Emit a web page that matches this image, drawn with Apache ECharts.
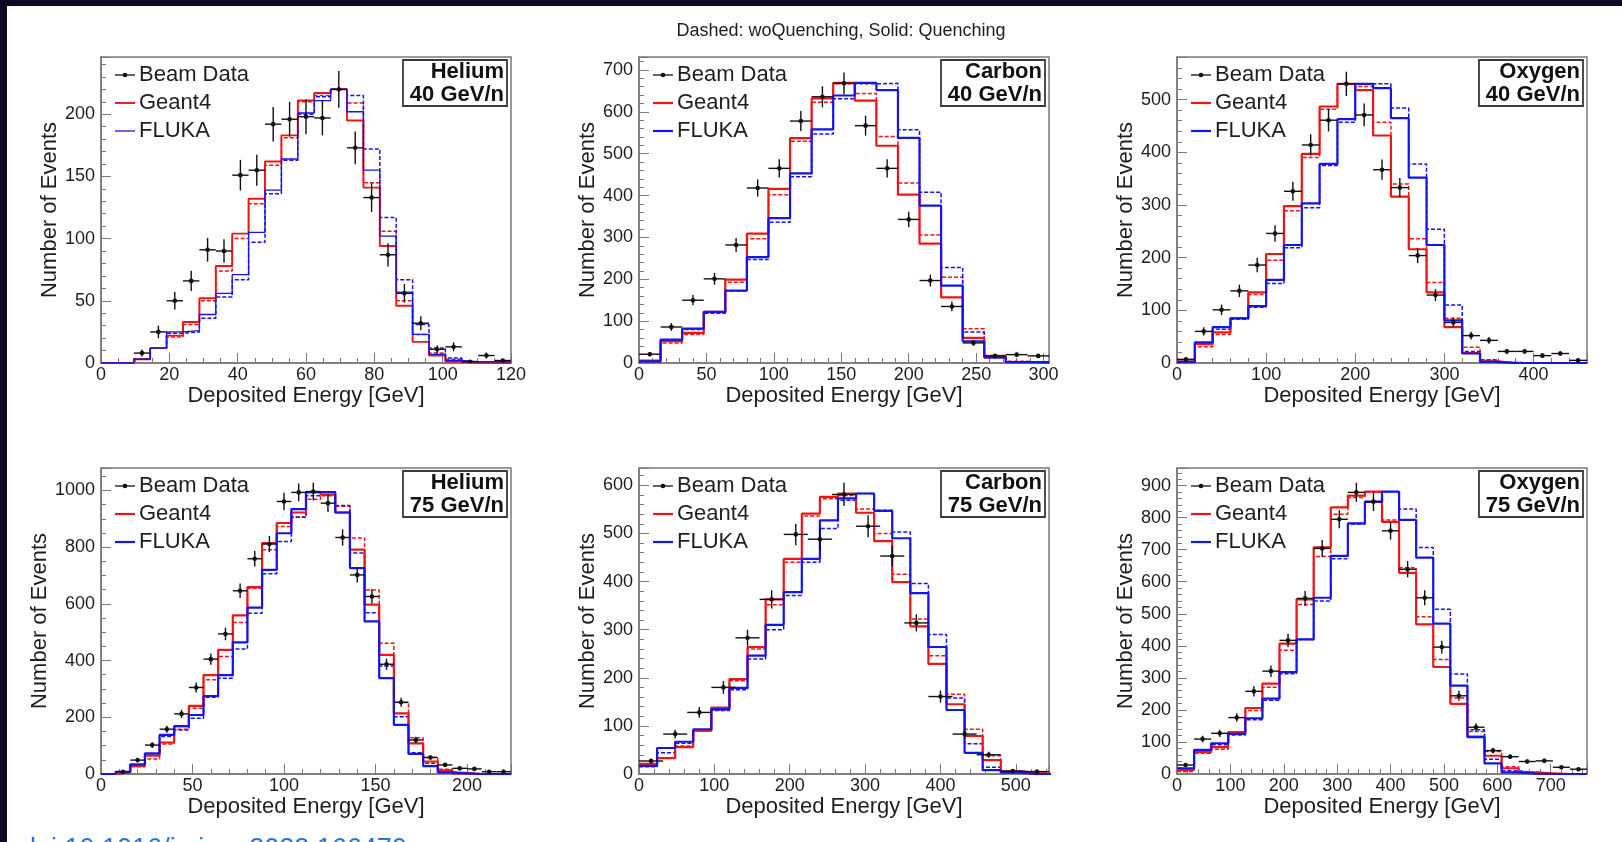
<!DOCTYPE html>
<html>
<head>
<meta charset="utf-8">
<script src="https://cdn.jsdelivr.net/npm/echarts@6/dist/echarts.min.js"></script>
<style>
  html, body { margin: 0; padding: 0; background: #0c0a22; }
  #chart { width: 1622px; height: 842px; }
</style>
</head>
<body>
<div id="chart"></div>
<script>
// ---- Energy-deposit histograms (events per bin) ----
// Helium 40 GeV/n, 4.8 GeV bins from 0
const he40Data   = [0,0,8,25,50,66,91,90,151,155,192,196,198,197,220,173,133,87,56,32,11,13,1,6,2];
const he40G4     = [0,0,3,12,22,33,52,78,104,132,162,183,211,217,220,195,141,94,46,17,6,1,0,0,0];
const he40G4woQ  = [0,0,3,12,21,31,50,74,100,128,159,181,210,215,220,209,145,106,50,23,8,3,1,0,0];
const he40Fl     = [0,0,3,12,25,26,39,56,71,105,139,164,201,211,220,202,155,102,57,23,7,2,1,1,1];
const he40FlwoQ  = [0,0,3,12,24,25,36,53,67,97,136,163,200,214,220,215,172,117,67,31,12,4,1,1,1];

// Carbon 40 GeV/n, 16 GeV bins
const c40Data    = [21,86,150,201,282,418,465,578,636,668,567,465,343,197,135,48,17,20,17];
const c40G4      = [6,52,72,122,199,309,416,537,632,669,627,519,402,285,157,60,16,2,0];
const c40G4woQ   = [4,48,68,120,193,297,402,530,623,667,644,541,430,306,205,82,18,4,0];
const c40Fl      = [4,56,82,122,173,253,346,453,558,639,669,652,538,376,185,52,13,2,2];
const c40FlwoQ   = [3,54,80,119,172,247,336,445,547,631,667,668,557,408,228,74,16,2,1];

// Oxygen 40 GeV/n, 20 GeV bins
const o40Data    = [7,60,101,137,186,246,326,414,461,530,471,367,333,204,129,77,52,43,22,22,14,18,5];
const o40G4      = [3,36,58,85,134,207,298,397,487,530,518,432,316,216,134,68,19,3,0,0,0,0,0];
const o40G4woQ   = [2,31,54,83,130,195,289,390,482,530,525,457,340,236,153,85,30,6,1,0,0,0,0];
const o40Fl      = [2,39,68,85,108,158,224,303,378,463,530,522,465,352,224,81,18,2,0,0,0,0,0];
const o40FlwoQ   = [1,37,64,83,106,151,219,295,375,457,530,530,484,378,254,110,22,5,1,0,0,0,0];

// Helium 75 GeV/n, 8 GeV bins
const he75Data   = [0,8,49,102,158,212,305,405,494,646,759,811,961,993,996,955,834,702,626,387,253,120,58,32,20,18,8,8];
const he75G4     = [0,6,29,65,111,169,240,349,438,559,659,814,885,922,994,985,922,791,597,420,214,108,44,12,2,0,0,0];
const he75G4woQ  = [0,5,26,53,106,158,232,332,414,534,655,791,873,906,969,981,944,832,649,461,252,128,59,17,5,1,0,0];
const he75Fl     = [0,8,34,73,138,169,208,275,349,464,587,720,849,934,994,994,922,726,538,338,173,71,28,6,2,0,0,0];
const he75FlwoQ  = [0,6,32,67,132,155,197,271,338,441,567,706,820,905,981,987,947,779,569,381,202,75,38,12,2,0,0,0];

// Carbon 75 GeV/n: simulation in 24 GeV bins, beam data in 32 GeV bins
const c75Data    = [27,83,128,180,283,363,498,488,581,515,453,314,161,83,40,6,5];
const c75G4      = [21,33,56,90,138,197,264,363,447,541,576,583,543,484,399,307,229,145,79,29,5,2,0];
const c75G4woQ   = [19,34,58,90,133,194,260,352,440,536,572,579,551,500,415,322,246,166,93,38,7,3,0];
const c75Fl      = [17,54,67,93,135,179,246,310,378,447,527,573,583,547,490,376,264,133,44,8,3,0,0];
const c75FlwoQ   = [15,44,64,90,132,175,239,300,371,440,510,569,583,548,503,396,290,158,63,14,4,0,0];

// Oxygen 75 GeV/n, 32 GeV bins
const o75Data    = [28,109,127,176,258,321,417,548,704,795,879,850,759,639,550,396,244,146,73,54,39,41,21,15];
const o75G4      = [13,68,84,131,206,282,407,545,707,832,869,881,787,628,467,334,219,117,57,18,4,2,0,0];
const o75G4woQ   = [8,65,77,125,198,271,386,529,679,811,863,879,793,644,491,357,237,133,70,23,7,1,0,0];
const o75Fl      = [18,75,96,125,174,235,318,420,550,681,782,850,881,793,675,469,276,115,33,5,1,0,0,0];
const o75FlwoQ   = [12,70,91,122,169,230,313,420,540,672,780,848,881,827,707,514,312,138,46,10,4,0,0,0];

// Text
const titleText = 'Dashed: woQuenching, Solid: Quenching';
const xTitle = 'Deposited Energy [GeV]';
const yTitle = 'Number of Events';
const legendNames = ['Beam Data', 'Geant4', 'FLUKA'];
const doiText = 'doi:10.1016/j.nima.2022.166470';

const panels = [
  { label: ['Helium', '40 GeV/n'], simW: 4.8, dataW: 4.8, xMax: 120, xStep: 20, xMinor: 4, yMax: 246, yStep: 50, yMinor: 5,
    data: he40Data, g4: he40G4, g4w: he40G4woQ, fl: he40Fl, flw: he40FlwoQ, thin: true },
  { label: ['Carbon', '40 GeV/n'], simW: 16, dataW: 16, xMax: 304, xStep: 50, xMinor: 5, yMax: 731, yStep: 100, yMinor: 5,
    data: c40Data, g4: c40G4, g4w: c40G4woQ, fl: c40Fl, flw: c40FlwoQ },
  { label: ['Oxygen', '40 GeV/n'], simW: 20, dataW: 20, xMax: 460, xStep: 100, xMinor: 5, yMax: 581, yStep: 100, yMinor: 5,
    data: o40Data, g4: o40G4, g4w: o40G4woQ, fl: o40Fl, flw: o40FlwoQ },
  { label: ['Helium', '75 GeV/n'], simW: 8, dataW: 8, xMax: 224, xStep: 50, xMinor: 5, yMax: 1079, yStep: 200, yMinor: 4,
    data: he75Data, g4: he75G4, g4w: he75G4woQ, fl: he75Fl, flw: he75FlwoQ },
  { label: ['Carbon', '75 GeV/n'], simW: 24, dataW: 32, xMax: 544, xStep: 100, xMinor: 5, yMax: 636, yStep: 100, yMinor: 5,
    data: c75Data, g4: c75G4, g4w: c75G4woQ, fl: c75Fl, flw: c75FlwoQ },
  { label: ['Oxygen', '75 GeV/n'], simW: 32, dataW: 32, xMax: 768, xStep: 100, xMinor: 5, yMax: 955, yStep: 100, yMinor: 5,
    data: o75Data, g4: o75G4, g4w: o75G4woQ, fl: o75Fl, flw: o75FlwoQ }
];

// Layout of the 2x3 pad grid
const padLeft = [101, 639, 1177];
const padTop = [57, 468];
const padW = 410, padH = 306;

const FONT = "'Liberation Sans', Arial, Helvetica, sans-serif";
const FRAME = '#7a7a7a';
const INK = '#1e1e1e';
const RED = '#f01414';
const BLUE = '#1414ee';

// Histogram outline: horizontal segment across each bin, joined by vertical steps
function stepPoints(vals, w) {
  const pts = [];
  vals.forEach((v, i) => { pts.push([i * w, v]); pts.push([(i + 1) * w, v]); });
  return pts;
}

const plainNumber = v => String(Math.round(v));

const grids = [], xAxes = [], yAxes = [], series = [], graphics = [];

graphics.push({ type: 'rect', z: -100, silent: true,
  shape: { x: 7, y: 6, width: 1615, height: 836 }, style: { fill: '#ffffff' } });
graphics.push({ type: 'text', x: 841, y: 31, silent: true,
  style: { text: titleText, fontFamily: FONT, fontSize: 18, fill: INK, textAlign: 'center', textVerticalAlign: 'middle' } });
graphics.push({ type: 'text', x: 21, y: 836, silent: true,
  style: { text: doiText, fontFamily: FONT, fontSize: 27, fill: '#2776db', textAlign: 'left', textVerticalAlign: 'top' } });

panels.forEach((p, i) => {
  const left = padLeft[i % 3], top = padTop[Math.floor(i / 3)];
  grids.push({ left: left, top: top, width: padW, height: padH, show: true,
    borderColor: FRAME, borderWidth: 1.5, backgroundColor: 'transparent' });

  xAxes.push({ type: 'value', gridIndex: i, min: 0, max: p.xMax, interval: p.xStep,
    axisLine: { show: true, onZero: false, lineStyle: { color: FRAME, width: 1.5 } },
    axisTick: { show: true, inside: true, length: 10, lineStyle: { color: FRAME, width: 1 } },
    minorTick: { show: true, splitNumber: p.xMinor, length: 5, lineStyle: { color: FRAME, width: 1 } },
    splitLine: { show: false }, minorSplitLine: { show: false },
    axisLabel: { margin: 3, fontSize: 18, color: INK, fontFamily: FONT, formatter: plainNumber,
      showMaxLabel: p.xMax % p.xStep === 0 },
    name: xTitle, nameLocation: 'middle', nameGap: 22,
    nameTextStyle: { fontSize: 22, color: INK, fontFamily: FONT } });

  yAxes.push({ type: 'value', gridIndex: i, min: 0, max: p.yMax, interval: p.yStep,
    axisLine: { show: true, onZero: false, lineStyle: { color: FRAME, width: 1.5 } },
    axisTick: { show: true, inside: true, length: 10, lineStyle: { color: FRAME, width: 1 } },
    minorTick: { show: true, splitNumber: p.yMinor, length: 5, lineStyle: { color: FRAME, width: 1 } },
    splitLine: { show: false }, minorSplitLine: { show: false },
    axisLabel: { margin: 6, fontSize: 18, color: INK, fontFamily: FONT, formatter: plainNumber, showMaxLabel: false },
    name: yTitle, nameLocation: 'middle', nameGap: 36,
    nameTextStyle: { fontSize: 22, color: INK, fontFamily: FONT } });

  const solidW = p.thin ? 1.3 : 2.2;
  const redW = p.thin ? 1.9 : 2.2;
  const hist = (vals, color, width, dashed) => ({
    type: 'line', xAxisIndex: i, yAxisIndex: i, data: stepPoints(vals, p.simW),
    symbol: 'none', showSymbol: false, silent: true, animation: false, clip: true,
    lineStyle: { color: color, width: width, type: dashed ? [4, 2] : 'solid' }
  });
  series.push(hist(p.g4w, RED, 1.5, true));
  series.push(hist(p.flw, BLUE, 1.5, true));
  series.push(hist(p.g4, RED, redW, false));
  series.push(hist(p.fl, BLUE, solidW, false));

  // Beam data: points with Poisson vertical errors and bin-width horizontal bars
  const pts = p.data.map((v, k) => [(k + 0.5) * p.dataW, v, p.dataW]).filter(d => d[1] > 0);
  series.push({ type: 'custom', xAxisIndex: i, yAxisIndex: i, data: pts, clip: true, silent: true,
    animation: false, z: 10,
    renderItem: (params, api) => {
      const x = api.value(0), y = api.value(1), hw = api.value(2) / 2, e = Math.sqrt(y);
      const c = api.coord([x, y]);
      const l = api.coord([x - hw, y]), r = api.coord([x + hw, y]);
      const t = api.coord([x, y + e]), b = api.coord([x, Math.max(0, y - e)]);
      return { type: 'group', children: [
        { type: 'line', shape: { x1: l[0], y1: c[1], x2: r[0], y2: c[1] }, style: { stroke: '#111', lineWidth: 1.4 } },
        { type: 'line', shape: { x1: c[0], y1: t[1], x2: c[0], y2: b[1] }, style: { stroke: '#111', lineWidth: 1.4 } },
        { type: 'circle', shape: { cx: c[0], cy: c[1], r: 2.3 }, style: { fill: '#111' } }
      ] };
    } });

  // Legend block in the upper-left corner of the pad
  const lx = left + 14, ly = top + 18, rowH = 28;
  const keyColors = ['#111', RED, BLUE];
  const keyWidths = [1.3, redW, solidW];
  legendNames.forEach((name, r) => {
    const yy = ly + r * rowH;
    graphics.push({ type: 'line', silent: true,
      shape: { x1: lx, y1: yy, x2: lx + 20, y2: yy }, style: { stroke: keyColors[r], lineWidth: keyWidths[r] } });
    if (r === 0) {
      graphics.push({ type: 'circle', silent: true, shape: { cx: lx + 10, cy: yy, r: 2.3 }, style: { fill: '#111' } });
    }
    graphics.push({ type: 'text', x: lx + 24, y: yy, silent: true,
      style: { text: name, fontFamily: FONT, fontSize: 22, fill: INK, textAlign: 'left', textVerticalAlign: 'middle' } });
  });

  // Beam species / energy box in the upper-right corner
  const bx = left + padW - 108, by = top + 3, bw = 104, bh = 46;
  graphics.push({ type: 'rect', silent: true, shape: { x: bx, y: by, width: bw, height: bh },
    style: { fill: '#ffffff', stroke: '#3a3a3a', lineWidth: 1.8 } });
  p.label.forEach((txt, r) => {
    graphics.push({ type: 'text', x: bx + bw - 3, y: by + 12 + r * 23, silent: true,
      style: { text: txt, fontFamily: FONT, fontSize: 22, fontWeight: 'bold', fill: '#111',
        textAlign: 'right', textVerticalAlign: 'middle' } });
  });
});

const chart = echarts.init(document.getElementById('chart'), null, { renderer: 'canvas' });
chart.setOption({
  backgroundColor: '#0c0a22',
  animation: false,
  grid: grids,
  xAxis: xAxes,
  yAxis: yAxes,
  series: series,
  graphic: graphics
});
</script>
</body>
</html>
